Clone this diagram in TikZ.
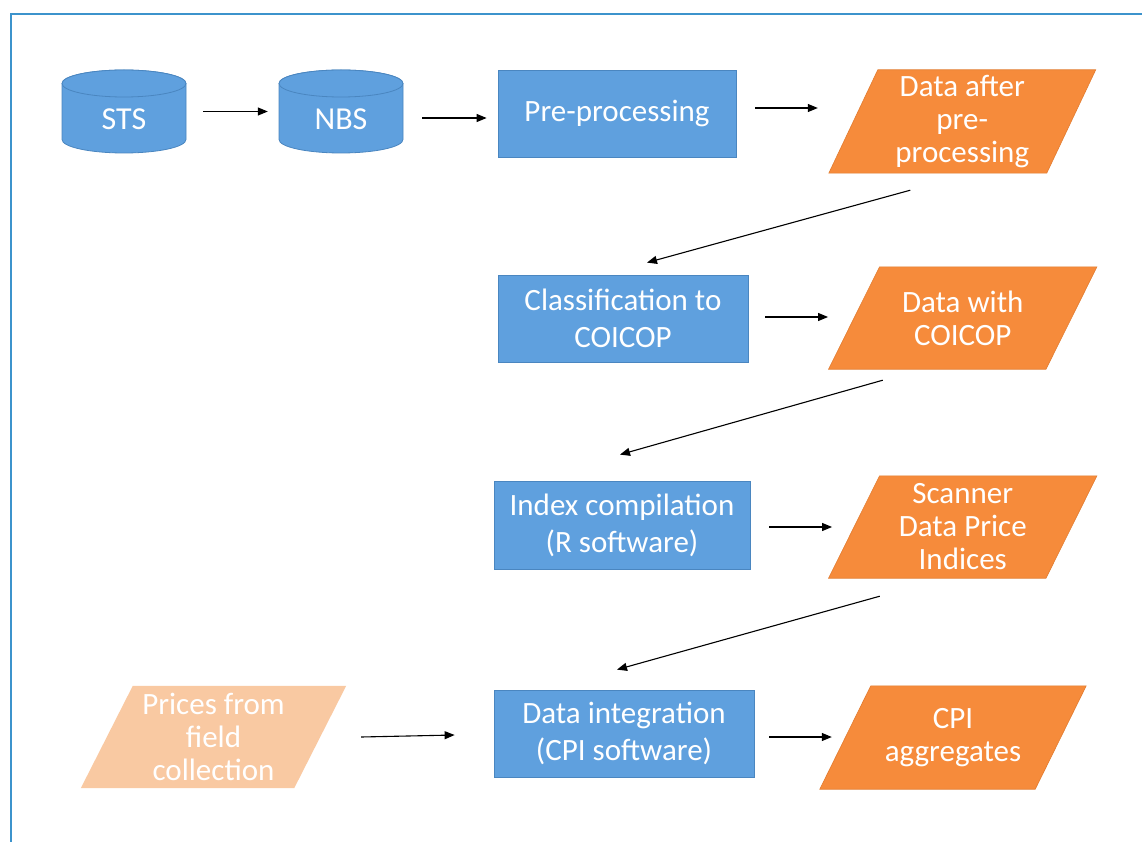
\documentclass[tikz,border=0pt]{standalone}
\usepackage{fontspec}
\setmainfont{Carlito}
\usetikzlibrary{calc,arrows.meta,backgrounds}

\definecolor{procblue}{HTML}{5FA0DE}
\definecolor{procedge}{HTML}{4A86C0}
\definecolor{dataorange}{HTML}{F68B3B}
\definecolor{dataedge}{HTML}{E27C30}
\definecolor{fieldpeach}{HTML}{F9C9A2}
\definecolor{framecol}{HTML}{3C93CC}

\tikzset{
  proc/.style={rectangle, fill=procblue, draw=procedge, line width=0.8pt,
    text=white, align=center, font=\fontsize{31}{37}\selectfont, inner sep=0pt},
  dataslot/.style={rectangle, inner sep=0pt, text=white, align=center,
    font=\fontsize{31}{33}\selectfont, minimum height=103pt},
  dbslot/.style={rectangle, inner sep=0pt, minimum width=124pt, minimum height=83pt},
  dblabel/.style={text=white, inner sep=0pt, font=\fontsize{32}{33}\selectfont},
  flow/.style={draw=black, line width=1.1pt, -{Triangle[length=10pt,width=8pt]}},
  dbcyl/.pic={
    \path[fill=procblue, draw=procedge, line width=0.8pt]
      (-62pt,28pt) -- (-62pt,-28pt)
      arc[start angle=180, end angle=360, x radius=62pt, y radius=13.5pt]
      -- (62pt,28pt)
      arc[start angle=0, end angle=180, x radius=62pt, y radius=13.5pt] -- cycle;
    \path[fill=procblue, draw=procedge, line width=0.8pt]
      (0pt,28pt) ellipse [x radius=62pt, y radius=13.5pt];
  }
}

% slanted data box drawn behind a named node: name, half slant, fill options
\newcommand\slantbox[3]{%
  \begin{scope}[on background layer]
    \path[#3] ($(#1.north west)+(#2,0)$) -- ($(#1.north east)+(#2,0)$)
      -- ($(#1.south east)+(-#2,0)$) -- ($(#1.south west)+(-#2,0)$) -- cycle;
  \end{scope}}

\begin{document}
\begin{tikzpicture}[x=1pt, y=1pt]
  \useasboundingbox (0,0) rectangle (1142,-842);
  \begin{scope}[on background layer]
    \fill[white] (0,0) rectangle (1142,-842);
  \end{scope}

  % frame
  \draw[framecol, line width=1.5pt] (1142,-14) -- (11,-14) -- (11,-842);

  % databases
  \node[dbslot] (sts) at (124,-111.5) {};
  \pic at (sts.center) {dbcyl};
  \node[dblabel] (stsname) at ($(sts.center)+(0,-7.5)$) {STS};

  \node[dbslot] (nbs) at (341,-111.5) {};
  \pic at (nbs.center) {dbcyl};
  \node[dblabel] (nbsname) at ($(nbs.center)+(0,-7.5)$) {NBS};

  % processing steps
  \node[proc, minimum width=238pt, minimum height=87pt] (pre) at (617,-113.5) {Pre-processing};
  \node[proc, minimum width=250pt, minimum height=87pt] (cls) at (623,-318.5) {Classification to\\COICOP};
  \node[proc, minimum width=256pt, minimum height=88pt] (idx) at (622,-525) {Index compilation\\(R software)};
  \node[proc, minimum width=260pt, minimum height=87pt] (din) at (624,-733.5) {Data integration\\(CPI software)};

  % data products
  \node[dataslot, minimum width=217.5pt] (dap) at (962.25,-121.5) {Data after\\pre-\\processing};
  \slantbox{dap}{24.5}{fill=dataorange, draw=dataedge, line width=0.6pt}
  \node[dataslot, minimum width=217pt, minimum height=102pt] (dwc) at (962.75,-318) {Data with\\COICOP};
  \slantbox{dwc}{25.5}{fill=dataorange, draw=dataedge, line width=0.6pt}
  \node[dataslot, minimum width=217pt, minimum height=102pt] (sdp) at (962.75,-527) {Scanner\\Data Price\\Indices};
  \slantbox{sdp}{25.5}{fill=dataorange, draw=dataedge, line width=0.6pt}
  \node[dataslot, minimum width=215pt] (cpi) at (953,-737.5) {CPI\\aggregates};
  \slantbox{cpi}{25.5}{fill=dataorange, draw=dataedge, line width=0.6pt}
  \node[dataslot, minimum width=213pt, minimum height=102pt] (pfc) at (213.5,-737) {Prices from\\field\\collection};
  \slantbox{pfc}{26}{fill=fieldpeach}

  % connectors
  \draw[flow] ($(sts.east)+(17,0)$) -- ($(nbs.west)+(-11,0)$);
  \draw[flow] ($(nbs.east)+(19,-6.5)$) -- ($(pre.west)+(-11,-4.5)$);
  \draw[flow] ($(pre.east)+(19,5.5)$) -- ($(dap.west)+(-35.5,13.5)$);
  \draw[flow] ($(dap.south)+(-52,-17)$) -- ($(cls.north)+(24,12)$);
  \draw[flow] ($(cls.east)+(17,1.5)$) -- ($(dwc.west)+(-26,1)$);
  \draw[flow] ($(dwc.south)+(-80,-11)$) -- ($(idx.north)+(-2,26)$);
  \draw[flow] ($(idx.east)+(19,-2)$) -- ($(sdp.west)+(-22,0)$);
  \draw[flow] ($(sdp.south)+(-83,-18)$) -- ($(din.north)+(-7,20)$);
  \draw[flow] ($(din.east)+(15,-3.5)$) -- ($(cpi.west)+(-13.5,0.5)$);
  \draw[flow] ($(pfc.east)+(41,0)$) -- ($(din.west)+(-39,-1.5)$);
\end{tikzpicture}
\end{document}
